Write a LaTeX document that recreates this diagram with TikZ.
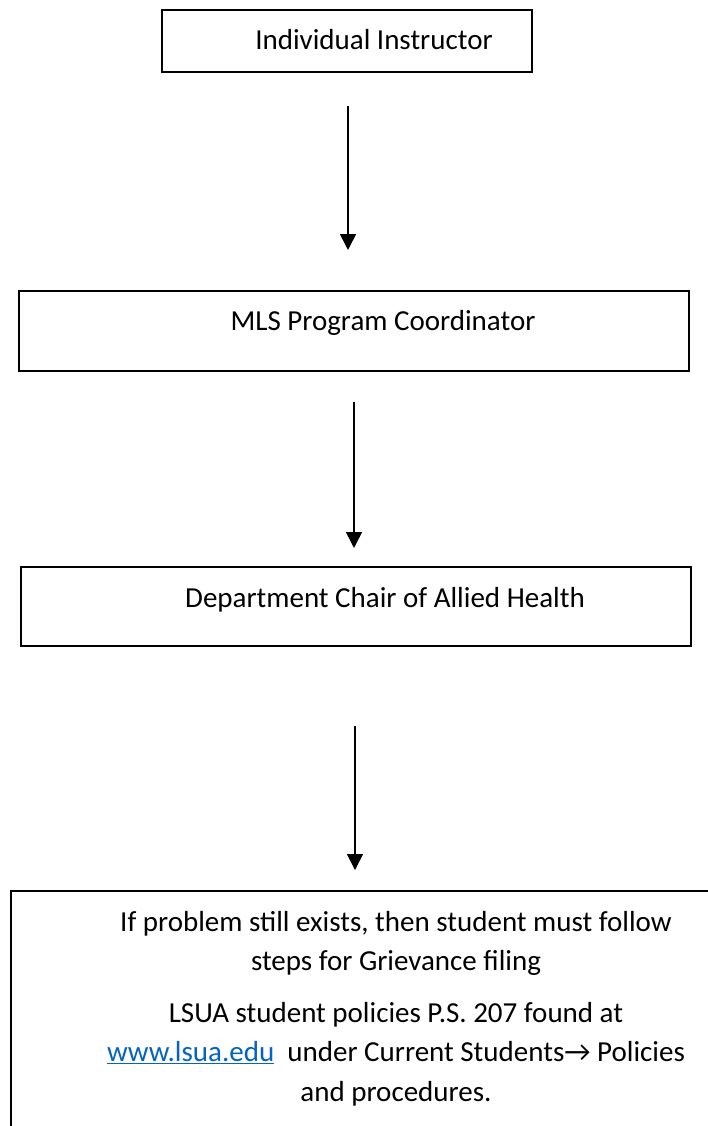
\documentclass[tikz,border=0pt]{standalone}
\usepackage{fontspec}
\setmainfont{Carlito}
\usetikzlibrary{arrows.meta}
\definecolor{linkblue}{HTML}{0563C1}
\begin{document}
\begin{tikzpicture}[x=1pt,y=-1pt,
  box/.style={draw=black,line width=1.6pt,rectangle,inner sep=0pt,anchor=north west},
  lbl/.style={inner sep=0pt,anchor=base,font=\fontsize{29}{39.5}\selectfont},
  flow/.style={line width=1.6pt,-{Triangle[width=16pt,length=16pt]}}]
\useasboundingbox (0,0) rectangle (707,1126);
% boxes
\node[box,minimum width=370pt,minimum height=62pt] (b1) at (161,9) {};
\node[box,minimum width=670pt,minimum height=80pt] (b2) at (18,290) {};
\node[box,minimum width=670pt,minimum height=79pt] (b3) at (20,566) {};
\node[box,minimum width=720pt,minimum height=260pt] (b4) at (10,890) {};
% labels
\node[lbl] (t1) at (374,50) {Individual Instructor};
\node[lbl] (t2) at (383,330) {MLS Program Coordinator};
\node[lbl] (t3) at (385,607) {Department Chair of Allied Health};
\node[lbl,anchor=north,align=center] (t4) at (396,911)
 {If problem still exists, then student must follow\\
  steps for Grievance filing\\[12pt]
  LSUA student policies P.S. 207 found at\\
  {\color{linkblue}\underline{www.lsua.edu}}\ \ under Current Students→ Policies\\
  and procedures.};
% arrows
\coordinate (a1s) at (348,106);
\coordinate (a1e) at (348,250);
\coordinate (a2s) at (354,402);
\coordinate (a2e) at (354,548);
\coordinate (a3s) at (355,726);
\coordinate (a3e) at (355,870);
\draw[flow] (a1s) -- (a1e);
\draw[flow] (a2s) -- (a2e);
\draw[flow] (a3s) -- (a3e);
\end{tikzpicture}
\end{document}
